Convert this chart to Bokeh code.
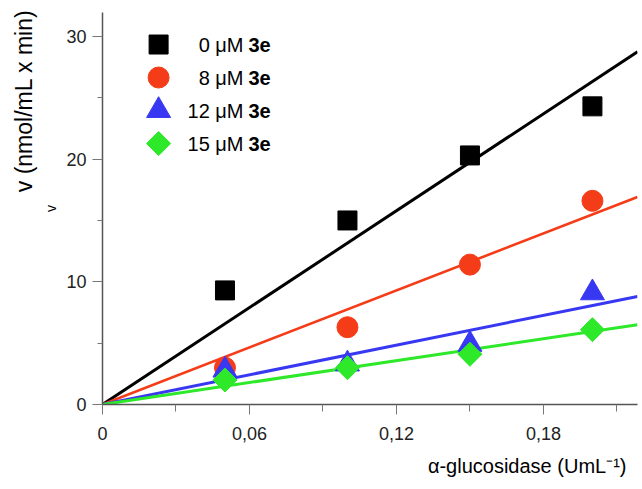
import numpy as np
from bokeh.plotting import figure
from bokeh.models import (ColumnDataSource, FixedTicker, CustomJSTickFormatter, Label, Range1d, Title)
from bokeh.embed import file_html
from bokeh.resources import INLINE

# ---- data ----
enzyme = [0.05, 0.10, 0.15, 0.20]          # α-glucosidase (UmL-1)
v_0uM = [9.3, 15.0, 20.3, 24.3]
v_8uM = [3.0, 6.3, 11.4, 16.6]
v_12uM = [2.8, 3.3, 4.9, 9.1]
v_15uM = [2.0, 3.0, 4.1, 6.1]
conc_labels = ["0", "8", "12", "15"]
x_ticks = [0, 0.06, 0.12, 0.18]
x_minor = [0.03, 0.09, 0.15, 0.21]
y_ticks = [0, 10, 20, 30]
y_minor = [5, 15, 25]

X_MAX = 0.2184
Y_MAX = 31.95

# (values, colour, marker, size, angle, line width)
series = [
    (v_0uM, "#000000", "square", 19, 0.0, 3.0),
    (v_8uM, "#f53c18", "circle", 21, 0.0, 2.6),
    (v_12uM, "#3838f2", "triangle", 24, 0.0, 3.0),
    (v_15uM, "#2ee82a", "square", 17, np.pi / 4, 3.0),
]

FONT = "Liberation Sans"
W, H = 640, 489
XLABEL = "\u03b1-glucosidase (UmL\u207b\u00b9)"

p = figure(width=W, height=H, output_backend="svg", toolbar_location=None,
           x_range=Range1d(0, X_MAX), y_range=Range1d(0, Y_MAX),
           min_border_left=102, min_border_right=3, min_border_top=12, min_border_bottom=H - 404)
p.outline_line_color = None
p.grid.visible = False
p.background_fill_color = "white"
p.border_fill_color = "white"

# fitted lines through the origin (least squares) drawn first
xa = np.array(enzyme)
for vals, color, marker, size, ang, lw in series:
    ya = np.array(vals)
    slope = float((xa * ya).sum() / (xa * xa).sum())
    p.line([0, X_MAX], [0, slope * X_MAX], line_color=color, line_width=lw)

for vals, color, marker, size, ang, lw in series:
    src = ColumnDataSource(dict(x=enzyme, y=vals))
    p.scatter("x", "y", source=src, marker=marker, size=size, angle=ang,
              fill_color=color, line_color=color)

# legend (drawn manually so that "3e" can be bold)
leg_x = 0.0229
leg_y0 = 29.34
leg_dy = 2.69
for i, (vals, color, marker, size, ang, lw) in enumerate(series):
    ly = leg_y0 - i * leg_dy
    p.scatter([leg_x], [ly], marker=marker, size=size, angle=ang,
              fill_color=color, line_color=color)
for i, lab in enumerate(conc_labels):
    ypix = 360 - i * 33  # frame-relative screen y of the text centre
    p.add_layout(Label(x=141, y=ypix, x_units="screen", y_units="screen",
                       text=lab + " \u03bcM", text_align="right", text_baseline="middle",
                       text_font=FONT, text_font_size="20px", text_color="black"))
    p.add_layout(Label(x=146, y=ypix, x_units="screen", y_units="screen",
                       text="3e", text_align="left", text_baseline="middle",
                       text_font=FONT, text_font_size="20px", text_font_style="bold",
                       text_color="black"))

# axes styling
for ax in (p.xaxis[0], p.yaxis[0]):
    ax.axis_line_color = "#555555"
    ax.axis_line_width = 1.5
    ax.major_tick_line_color = "#777777"
    ax.minor_tick_line_color = "#777777"
    ax.major_tick_in = 0
    ax.minor_tick_in = 0
    ax.major_label_text_font = FONT
    ax.major_label_text_font_size = "18px"
    ax.major_label_text_color = "#222222"

p.xaxis.ticker = FixedTicker(ticks=x_ticks, minor_ticks=x_minor)
p.xaxis.formatter = CustomJSTickFormatter(
    code="return tick === 0 ? '0' : tick.toFixed(2).replace('.', ',');")
p.xaxis.major_tick_out = 10
p.xaxis.minor_tick_out = 7
p.xaxis.major_label_standoff = 12

p.yaxis.ticker = FixedTicker(ticks=y_ticks, minor_ticks=y_minor)
p.yaxis.major_tick_out = 10
p.yaxis.minor_tick_out = 5
p.yaxis.major_label_standoff = 6

# x axis title (side-panel title, right aligned)
p.add_layout(Title(text=XLABEL, align="right", offset=11,
                   standoff=20, text_font=FONT, text_font_size="20px",
                   text_font_style="normal", text_color="black"), "below")

# y axis titles (side-panel titles so they can sit outside the frame)
p.add_layout(Title(text="v", align="center", offset=8, standoff=9,
                   text_font=FONT, text_font_size="14px", text_font_style="normal",
                   text_color="black"), "left")
p.add_layout(Title(text="v (nmol/mL x min)", align="right", offset=-3, standoff=0,
                   text_font=FONT, text_font_size="23px", text_font_style="normal",
                   text_color="black"), "left")

open("out.html", "w").write(file_html(p, INLINE))
